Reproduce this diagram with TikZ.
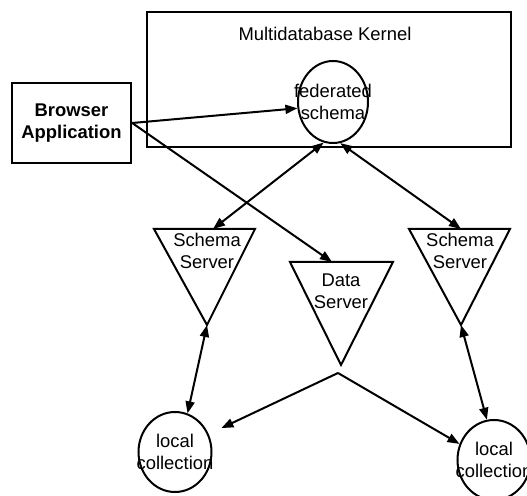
\documentclass[tikz,border=0pt]{standalone}
\usepackage{fontspec}
\setmainfont{Liberation Sans}
\usetikzlibrary{shapes.geometric, arrows.meta}

\begin{document}
\begin{tikzpicture}[
  x=0.5pt, y=-0.5pt,
  every node/.style={font=\fontsize{9.2}{11}\selectfont, align=center},
  box/.style={draw, line width=1pt, inner sep=0pt},
  collection/.style={draw, ellipse, line width=1pt, inner sep=0pt, minimum width=36.5pt, minimum height=40pt},
  server/.style={draw, line width=1pt, line join=miter},
  arrow/.style={-{Triangle[length=6pt, width=4.5pt]}, line width=1pt},
  biarrow/.style={{Triangle[length=6pt, width=4.5pt]}-{Triangle[length=6pt, width=4.5pt]}, line width=1pt}
]
\useasboundingbox (0,0) rectangle (527,496);
% kernel and its schema
\node (kernel) [box, minimum width=182pt, minimum height=67.5pt] at (329,79.5) {};
\node (kernel label) at (325,34) {Multidatabase Kernel};
\node (fed) [collection, minimum width=35pt, minimum height=41pt, label=center:{federated\\schema}] at (333,102) {};
\node (browser) [box, line width=1.2pt, minimum width=59.5pt, minimum height=40pt, font=\fontsize{9.2}{11}\selectfont\bfseries] at (71.5,123) {Browser\\Application};
% servers
\draw[server] (154,229) -- (255,229) -- (207,325) -- cycle;
\node (schema left) at (207,251) {Schema\\Server};
\coordinate (schema left top) at (213,229);
\coordinate (schema left tip) at (207,325);
\draw[server] (409,229) -- (510,229) -- (461,325) -- cycle;
\node (schema right) at (460,251) {Schema\\Server};
\coordinate (schema right top) at (461,229);
\coordinate (schema right tip) at (461,325);
\draw[server] (290,262) -- (393,262) -- (341,365) -- cycle;
\node (data) at (341,291) {Data\\Server};
\coordinate (data top) at (332,262);
\coordinate (split) at (338,373);
% local collections
\node (local left) [collection, label=center:{local\\collection}] at (175,452) {};
\node (local right) [collection, label=center:{local\\collection}] at (494,460) {};
% connectors
\draw[arrow] (browser.east) -- (fed.190);
\draw[arrow] (browser.east) -- (data top);
\draw[biarrow] (fed.257) -- (schema left top);
\draw[biarrow] (fed.280) -- (schema right top);
\draw[biarrow] (schema left tip) -- (local left.72);
\draw[biarrow] (schema right tip) -- (local right.100);
\draw[arrow, shorten >=7pt] (split) -- (local left.28);
\draw[arrow] (split) -- (local right.155);
\end{tikzpicture}
\end{document}
